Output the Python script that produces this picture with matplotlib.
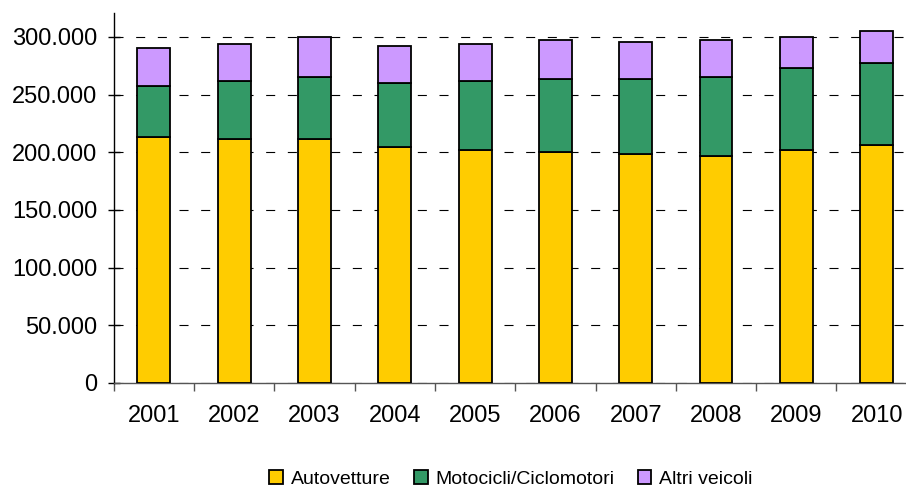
import numpy as np
import matplotlib
matplotlib.use("Agg")
import matplotlib.pyplot as plt
from matplotlib.ticker import FuncFormatter, FixedLocator

anni = ["2001", "2002", "2003", "2004", "2005", "2006", "2007", "2008", "2009", "2010"]
autovetture = [213600, 211800, 211800, 204300, 202300, 200600, 198300, 196500, 202000, 206100]
moto_ciclo = [43900, 49800, 53500, 55500, 59300, 62700, 65000, 68800, 71100, 71100]
altri = [32700, 32300, 34400, 32100, 32300, 34400, 32700, 32400, 26600, 28300]

plt.rcParams['font.family'] = ['Liberation Sans', 'DejaVu Sans']
plt.rcParams['lines.scale_dashes'] = False

fig = plt.figure(figsize=(9.06, 4.9), dpi=100)
ax = fig.add_axes([0.1256, 0.2184, 0.8863, 0.7557])

x = np.arange(len(anni))
w = 0.41
edge = dict(edgecolor='black', linewidth=1.3, zorder=3)
b1 = ax.bar(x, autovetture, w, color='#FFCC00', label='Autovetture', **edge)
b2 = ax.bar(x, moto_ciclo, w, bottom=autovetture, color='#339966',
            label='Motocicli/Ciclomotori', **edge)
bottom2 = np.array(autovetture) + np.array(moto_ciclo)
b3 = ax.bar(x, altri, w, bottom=bottom2, color='#CC99FF', label='Altri veicoli', **edge)

ax.set_xlim(-0.5, len(anni) - 0.5)
ax.set_ylim(0, 321000)
ax.set_yticks(np.arange(0, 300001, 50000))
ax.yaxis.set_major_formatter(FuncFormatter(lambda v, p: f"{int(v):,}".replace(",", ".")))
ax.yaxis.grid(True, color='black', linewidth=0.8, dashes=(6.5, 9.1))
ax.set_axisbelow(True)

ax.set_xticks(x)
ax.set_xticklabels(anni)
ax.xaxis.set_minor_locator(FixedLocator(np.arange(-0.5, len(anni), 1.0)))
ax.tick_params(axis='x', which='major', length=0, pad=16, labelsize=17)
ax.tick_params(axis='x', which='minor', length=6, direction='out', width=1, color='#555555')
ax.tick_params(axis='y', which='major', length=8, direction='inout', width=1, pad=8, labelsize=17)

for s in ['top', 'right']:
    ax.spines[s].set_visible(False)
ax.spines['left'].set_linewidth(1)
ax.spines['bottom'].set_linewidth(1)
ax.spines['bottom'].set_color('#555555')

fig.legend(handles=[b1, b2, b3], loc='center', bbox_to_anchor=(0.564, 0.022), ncol=3,
           frameon=False, fontsize=14, handlelength=0.7, handleheight=0.7,
           handletextpad=0.4, columnspacing=1.2, borderpad=0.1)

fig.savefig("out.png", dpi=100)
